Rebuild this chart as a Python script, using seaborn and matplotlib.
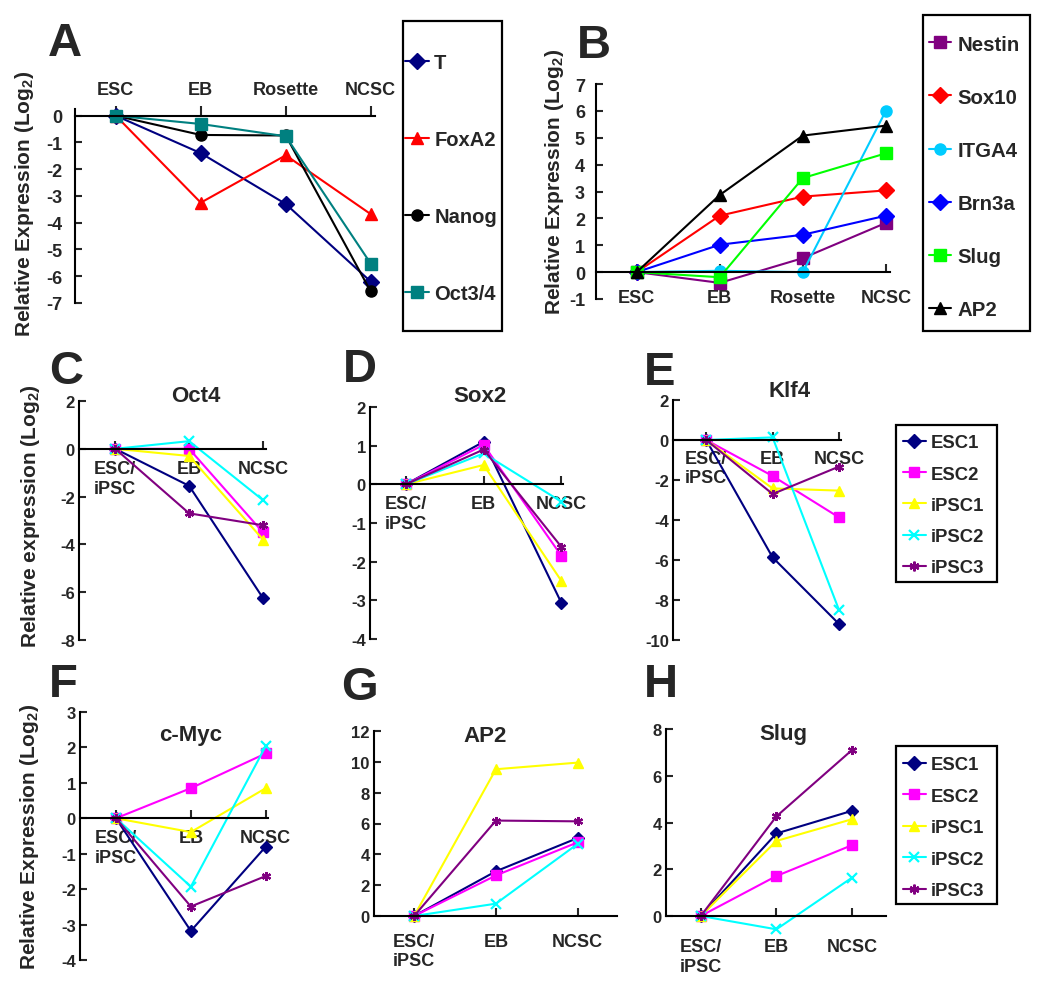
import matplotlib
matplotlib.use('Agg')
import matplotlib.pyplot as plt
from matplotlib.lines import Line2D
from matplotlib.patches import Rectangle
import pandas as pd
import seaborn as sns

W, H = 1050, 995

# x categories
stages_ab = ['ESC', 'EB', 'Rosette', 'NCSC']
stages_ch = ['ESC/\niPSC', 'EB', 'NCSC']

# Panel A - pluripotency / lineage genes
panel_a = {
    'T': [0, -1.4, -3.3, -6.2],
    'FoxA2': [0, -3.25, -1.48, -3.68],
    'Nanog': [0, -0.72, -0.74, -6.57],
    'Oct3/4': [0, -0.31, -0.77, -5.53],
}

# Panel B - neural crest markers
panel_b = {
    'Nestin': [0, -0.4, 0.52, 1.83],
    'Sox10': [0, 2.1, 2.81, 3.04],
    'ITGA4': [0, 0.05, 0.0, 6.0],
    'Brn3a': [0, 1.02, 1.39, 2.1],
    'Slug': [0, -0.19, 3.5, 4.42],
    'AP2': [0, 2.87, 5.08, 5.45],
}

# Panels C-H - cell lines
oct4 = {'ESC1': [0, -1.55, -6.25], 'ESC2': [0, 0.0, -3.5], 'iPSC1': [0, -0.3, -3.8],
        'iPSC2': [0, 0.32, -2.15], 'iPSC3': [0, -2.7, -3.2]}
sox2 = {'ESC1': [0, 1.1, -3.07], 'ESC2': [0, 1.02, -1.85], 'iPSC1': [0, 0.5, -2.5],
        'iPSC2': [0, 0.8, -0.45], 'iPSC3': [0, 0.9, -1.62]}
klf4 = {'ESC1': [0, -5.87, -9.2], 'ESC2': [0, -1.8, -3.87], 'iPSC1': [0, -2.42, -2.53],
        'iPSC2': [0, 0.13, -8.5], 'iPSC3': [0, -2.7, -1.33]}
cmyc = {'ESC1': [0, -3.18, -0.8], 'ESC2': [0, 0.85, 1.83], 'iPSC1': [0, -0.39, 0.85],
        'iPSC2': [0, -1.93, 2.04], 'iPSC3': [0, -2.49, -1.63]}
ap2 = {'ESC1': [0, 2.9, 5.06], 'ESC2': [0, 2.63, 4.78], 'iPSC1': [0, 9.52, 9.95],
       'iPSC2': [0, 0.8, 4.68], 'iPSC3': [0, 6.19, 6.14]}
slug = {'ESC1': [0, 3.53, 4.5], 'ESC2': [0, 1.71, 3.03], 'iPSC1': [0, 3.21, 4.14],
        'iPSC2': [0, -0.57, 1.64], 'iPSC3': [0, 4.26, 7.1]}

# colour / marker per series
style_a = {'T': ('#000080', 'D'), 'FoxA2': ('#FF0000', '^'),
           'Nanog': ('#000000', 'o'), 'Oct3/4': ('#008080', 's')}
style_b = {'Nestin': ('#800080', 's'), 'Sox10': ('#FF0000', 'D'), 'ITGA4': ('#00CCFF', 'o'),
           'Brn3a': ('#0000FF', 'D'), 'Slug': ('#00FF00', 's'), 'AP2': ('#000000', '^')}
style_cell = {'ESC1': ('#000080', 'D'), 'ESC2': ('#FF00FF', 's'), 'iPSC1': ('#FFFF00', '^'),
              'iPSC2': ('#00FFFF', 'x'), 'iPSC3': ('#800080', (6, 2, 0))}

sns.set_style('white')
plt.rcParams['font.family'] = ['Liberation Sans', 'DejaVu Sans']
plt.rcParams['font.weight'] = 'bold'
plt.rcParams['mathtext.fontset'] = 'custom'
plt.rcParams['mathtext.rm'] = 'Liberation Sans:bold'
plt.rcParams['mathtext.it'] = 'Liberation Sans:bold'

fig = plt.figure(figsize=(W / 100, H / 100), dpi=100)


def px_axes(x0, x1, y_top, y_bot):
    return fig.add_axes([x0 / W, 1 - y_bot / H, (x1 - x0) / W, (y_bot - y_top) / H])


def ftext(x, y, s, **kw):
    fig.text(x / W, 1 - y / H, s, ha='center', va='center', fontweight='bold', **kw)


def draw(ax, data, styles, ms, lw=1.5):
    rows = []
    for name, vals in data.items():
        for i, v in enumerate(vals):
            rows.append({'pos': i, 'series': name, 'value': v})
    df = pd.DataFrame(rows)
    for name in data:
        color, marker = styles[name]
        mew = 1.6 if marker in ('x', (6, 2, 0)) else 1
        sns.lineplot(data=df[df['series'] == name], x='pos', y='value', color=color,
                     marker=marker, markersize=ms, markeredgecolor=color, markeredgewidth=mew,
                     linewidth=lw, ax=ax, legend=False, errorbar=None, sort=False,
                     clip_on=False)


def style_axes(ax, stages, xlim, ylim, yticks, xpad, top=False, xsize=13, ysize=12, ypad=3):
    ax.set_xlim(*xlim)
    ax.set_ylim(*ylim)
    ax.set_xticks(range(len(stages)))
    ax.set_xticklabels(stages, fontweight='bold')
    ax.set_yticks(yticks)
    ax.set_yticklabels([str(t) for t in yticks], fontweight='bold')
    ax.set_xlabel('')
    ax.set_ylabel('')
    ax.spines['right'].set_visible(False)
    for s in ax.spines.values():
        s.set_linewidth(1.5)
        s.set_color('black')
    if top:
        ax.spines['bottom'].set_visible(False)
        ax.spines['top'].set_position(('data', 0))
        ax.xaxis.set_ticks_position('top')
        ax.tick_params(axis='x', direction='out', length=7, width=1.5, pad=xpad, labelsize=xsize)
    else:
        ax.spines['top'].set_visible(False)
        ax.spines['bottom'].set_position(('data', 0))
        ax.xaxis.set_ticks_position('bottom')
        ax.tick_params(axis='x', direction='in', length=6, width=1.5, pad=xpad, labelsize=xsize)
    ax.tick_params(axis='y', direction='in', length=5, width=1.5, pad=ypad, labelsize=ysize,
                   left=True)
    ax.patch.set_alpha(0)


def add_legend(styles, names, box, x_handle, y_first, size, spacing, hl, tpad, ms):
    handles = []
    for n in names:
        color, marker = styles[n]
        mew = 1.6 if marker in ('x', (6, 2, 0)) else 1
        handles.append(Line2D([], [], color=color, marker=marker, markersize=ms, lw=1.5,
                              markeredgecolor=color, markeredgewidth=mew, label=n))
    row_h = 0.93 * size * 100 / 72
    fig.legend(handles=handles, loc='upper left',
               bbox_to_anchor=(x_handle / W, 1 - (y_first - row_h / 2) / H),
               frameon=False, borderaxespad=0, borderpad=0,
               prop={'weight': 'bold', 'size': size}, labelspacing=spacing,
               handlelength=hl, handletextpad=tpad)
    x0, x1, y0, y1 = box
    fig.add_artist(Rectangle((x0 / W, 1 - y1 / H), (x1 - x0) / W, (y1 - y0) / H,
                             transform=fig.transFigure, fill=False, lw=1.6, ec='black'))


ylab = r'Relative Expression (Log$_2$)'

# ---- A
ax_a = px_axes(75, 375, 110, 304)
draw(ax_a, panel_a, style_a, 8)
style_axes(ax_a, stages_ab, (-0.48, 3.05), (-7, 0.25), list(range(-7, 1)), 6, top=True,
           xsize=13, ysize=13, ypad=9)
add_legend(style_a, list(panel_a), (403, 502, 22, 332), 405, 63, 14.5, 2.88, 1.2, 0.25, 8)
ftext(65, 44, 'A', fontsize=34)
ftext(25, 204, ylab, rotation=90, fontsize=15)

# ---- B
ax_b = px_axes(596, 890, 85, 300)
draw(ax_b, panel_b, style_b, 8)
style_axes(ax_b, stages_ab, (-0.49, 3.05), (-1, 7), list(range(-1, 8)), 12,
           xsize=13, ysize=13, ypad=8)
add_legend(style_b, list(panel_b), (923, 1030, 16, 332), 929, 45, 14.7, 1.67, 1.1, 0.3, 8)
ftext(594, 46, 'B', fontsize=34)
ftext(554, 182, ylab, rotation=90, fontsize=15)

# ---- C-H
cell_names = list(style_cell)
panels = [
    ('C', oct4, 'Oct4', (79, 266, 402, 641), (-0.49, 2.04), (-8, 2), list(range(-8, 3, 2)), 8,
     (66, 372), (196, 397)),
    ('D', sox2, 'Sox2', (370, 563, 408, 640), (-0.46, 2.02), (-4, 2), list(range(-4, 3)), 8,
     (360, 370), (480, 397)),
    ('E', klf4, 'Klf4', (673, 841, 401, 641), (-0.5, 2.03), (-10, 2), list(range(-10, 3, 2)), 7,
     (660, 373), (790, 392)),
    ('F', cmyc, 'c-Myc', (80, 268, 713, 961), (-0.48, 2.03), (-4, 3), list(range(-4, 4)), 8,
     (63, 685), (191, 736)),
    ('G', ap2, 'AP2', (374, 617, 732, 917), (-0.49, 2.48), (0, 12), list(range(0, 13, 2)), 12,
     (359, 688), (485, 737)),
    ('H', slug, 'Slug', (666, 886, 730, 917), (-0.46, 2.45), (0, 8), list(range(0, 9, 2)), 16,
     (661, 685), (783, 735)),
]
for letter, data, title, box, xlim, ylim, yticks, xpad, lpos, tpos in panels:
    ax = px_axes(*box)
    draw(ax, data, style_cell, 6.5)
    style_axes(ax, stages_ch, xlim, ylim, yticks, xpad)
    ftext(lpos[0], lpos[1], letter, fontsize=34)
    ftext(tpos[0], tpos[1], title, fontsize=16)

add_legend(style_cell, cell_names, (896, 997, 426, 583), 903, 444, 13.3, 0.77, 1.24, 0.26, 7)
add_legend(style_cell, cell_names, (896, 997, 747, 905), 903, 766, 13.3, 0.78, 1.24, 0.26, 7)

ftext(31, 516, r'Relative expression (Log$_2$)', rotation=90, fontsize=15)
ftext(30, 837, ylab, rotation=90, fontsize=15)

fig.savefig('out.png', dpi=100)
